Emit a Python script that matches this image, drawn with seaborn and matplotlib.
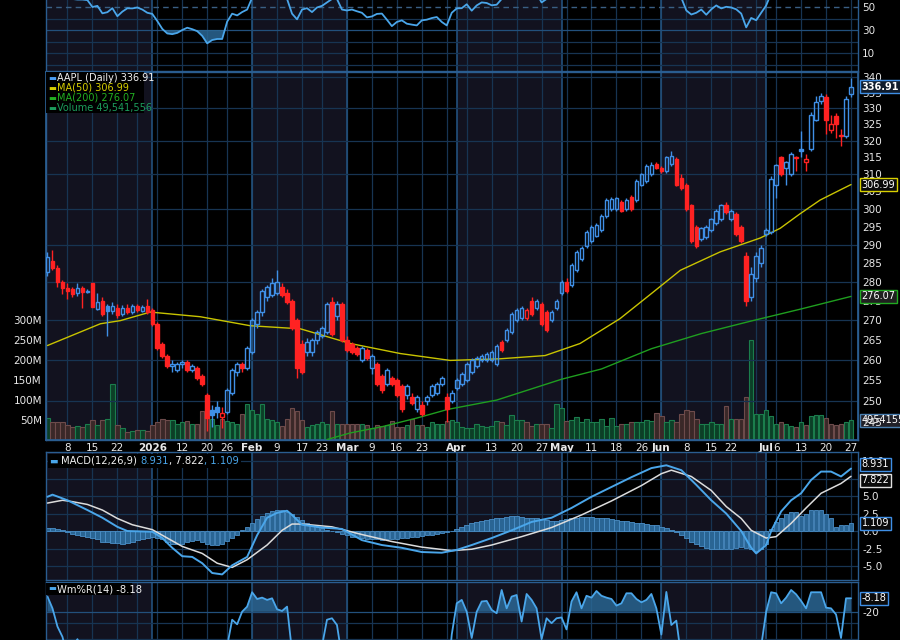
import numpy as np
import pandas as pd
import matplotlib
matplotlib.use('Agg')
import matplotlib.pyplot as plt
import seaborn as sns
from matplotlib.patches import Rectangle
from matplotlib.offsetbox import TextArea, HPacker, AnchoredOffsetbox
from matplotlib.ticker import NullLocator, NullFormatter

# ---- trading calendar ----
holidays = ['2025-12-25', '2026-01-01', '2026-01-19', '2026-02-16',
            '2026-04-03', '2026-05-25', '2026-06-19', '2026-07-03']
dates = pd.bdate_range('2025-12-02', '2026-07-27')
dates = dates[~dates.isin(pd.to_datetime(holidays))]

tick_dates = ['2025-12-08', '2025-12-15', '2025-12-22', '2026-01-02', '2026-01-12', '2026-01-20',
              '2026-01-26', '2026-02-02', '2026-02-09', '2026-02-17', '2026-02-23', '2026-03-02',
              '2026-03-09', '2026-03-16', '2026-03-23', '2026-04-01', '2026-04-13', '2026-04-20',
              '2026-04-27', '2026-05-01', '2026-05-11', '2026-05-18', '2026-05-26', '2026-06-01',
              '2026-06-08', '2026-06-15', '2026-06-22', '2026-07-01', '2026-07-06', '2026-07-13',
              '2026-07-20', '2026-07-27']
tick_text = ['8', '15', '22', '2026', '12', '20', '26', 'Feb', '9', '17', '23', 'Mar', '9', '16', '23',
             'Apr', '13', '20', '27', 'May', '11', '18', '26', 'Jun', '8', '15', '22', 'Jul', '6', '13',
             '20', '27']
shaded_months = [(2025, 12), (2026, 2), (2026, 4), (2026, 6)]

# ---- daily OHLC ----
prev_close = 281.0
opens = [282.5, 285.5, 283.7, 280.0, 278.2, 278.0, 277.0, 278.3, 277.3, 279.5,
         272.8, 275.0, 273.6, 272.3, 273.0, 271.5, 273.0, 272.0, 273.5, 272.4,
         273.5, 272.5, 269.0, 264.0, 261.0, 258.5, 257.5, 259.0, 259.3, 257.5,
         258.0, 256.0, 251.5, 247.8, 248.5, 246.2, 247.5, 252.0, 257.0, 259.0,
         258.0, 262.0, 269.0, 272.0, 276.0, 276.5, 277.0, 278.5, 277.0, 275.0,
         270.0, 264.0, 262.0, 262.0, 265.0, 266.0, 267.0, 274.5, 271.0, 274.0,
         265.0, 264.0, 263.0, 260.0, 262.5, 258.0, 259.0, 256.0, 254.0, 255.5,
         255.0, 253.5, 251.5, 251.0, 248.0, 249.0, 250.0, 251.5, 252.0, 254.0,
         251.0, 250.0, 253.0, 254.0, 255.0, 257.0, 258.5, 260.0, 260.0, 260.0,
         259.0, 264.5, 265.0, 267.0, 270.0, 270.5, 270.5, 275.0, 273.0, 274.0,
         272.0, 270.0, 273.0, 277.0, 280.0, 279.0, 283.0, 286.0, 289.5, 291.0,
         292.5, 294.0, 298.0, 300.0, 300.0, 302.0, 300.0, 303.5, 302.5, 307.0,
         308.0, 310.0, 313.0, 312.0, 311.0, 313.0, 314.5, 309.0, 307.0, 301.0,
         295.0, 291.5, 292.0, 294.0, 296.0, 297.0, 301.0, 297.0, 298.5, 295.0,
         287.0, 276.0, 281.0, 285.0, 293.0, 293.5, 307.0, 315.0, 312.0, 310.0,
         314.8, 317.3, 313.5, 317.5, 326.5, 332.3, 333.5, 323.3, 327.5, 321.8,
         321.5, 334.5]
highs = [288.0, 288.5, 284.5, 280.5, 279.5, 278.5, 279.5, 278.8, 278.0, 279.7,
         277.0, 276.0, 274.0, 274.5, 274.0, 273.8, 274.0, 274.0, 274.0, 273.8,
         275.5, 273.0, 269.5, 264.5, 261.5, 260.0, 259.5, 260.0, 259.8, 259.0,
         258.5, 256.5, 252.0, 249.0, 250.0, 248.5, 253.0, 258.0, 259.5, 259.5,
         263.5, 270.5, 272.5, 278.0, 279.0, 281.0, 283.0, 279.5, 278.0, 275.5,
         270.5, 265.0, 265.5, 265.5, 267.5, 268.5, 274.5, 276.0, 275.0, 274.5,
         266.0, 264.5, 263.5, 263.5, 263.0, 261.5, 259.5, 256.5, 258.0, 256.0,
         255.5, 254.0, 254.0, 252.0, 251.5, 250.0, 251.5, 254.0, 254.5, 256.0,
         252.0, 252.5, 255.5, 257.0, 259.5, 260.5, 261.0, 261.5, 262.0, 262.5,
         264.0, 265.0, 268.0, 272.0, 273.0, 273.5, 273.0, 276.0, 275.5, 274.5,
         272.5, 272.5, 275.5, 280.5, 281.0, 285.0, 288.5, 289.5, 294.0, 295.5,
         296.0, 298.5, 303.0, 303.5, 303.5, 302.5, 303.0, 304.0, 308.5, 310.5,
         313.0, 313.5, 313.5, 312.5, 315.5, 317.0, 315.0, 310.0, 307.5, 301.5,
         295.5, 295.0, 295.5, 297.5, 300.0, 301.5, 302.0, 300.0, 299.0, 295.5,
         288.0, 284.0, 288.0, 290.0, 294.5, 309.5, 313.0, 315.5, 314.0, 316.5,
         315.5, 323.0, 316.0, 329.0, 334.0, 335.0, 334.5, 328.0, 328.5, 323.5,
         334.0, 339.7]
lows = [281.5, 283.0, 278.5, 276.8, 275.5, 276.0, 276.2, 273.0, 277.0, 273.2,
        272.5, 271.0, 266.0, 271.5, 270.5, 271.0, 271.5, 271.5, 272.0, 272.0,
        271.5, 268.5, 262.5, 260.5, 258.0, 257.0, 257.0, 258.0, 257.0, 257.0,
        255.0, 253.5, 243.0, 244.0, 246.0, 243.7, 247.0, 251.5, 256.0, 257.0,
        257.5, 261.5, 268.0, 271.0, 275.0, 276.0, 276.5, 276.0, 274.0, 267.5,
        255.5, 256.5, 261.0, 261.0, 264.0, 265.5, 266.5, 266.0, 270.0, 264.5,
        262.0, 261.5, 261.0, 259.5, 260.0, 256.5, 253.5, 252.0, 253.5, 253.5,
        251.0, 247.5, 250.5, 249.0, 247.5, 246.5, 249.0, 251.0, 251.5, 253.5,
        245.0, 249.5, 252.5, 253.5, 254.5, 256.5, 258.0, 259.5, 259.5, 259.5,
        258.5, 262.0, 264.5, 266.5, 269.5, 270.0, 270.0, 271.0, 272.5, 268.5,
        267.0, 269.5, 272.5, 276.5, 277.0, 278.5, 282.5, 285.5, 289.0, 290.5,
        292.0, 293.5, 297.5, 299.5, 299.5, 299.0, 299.5, 299.5, 302.0, 306.5,
        307.5, 309.5, 311.5, 310.5, 310.5, 312.5, 306.5, 305.5, 299.5, 290.5,
        289.0, 291.0, 291.5, 293.5, 295.5, 296.5, 298.5, 296.5, 292.5, 290.5,
        273.5, 275.0, 280.0, 284.0, 292.5, 293.0, 303.0, 309.5, 307.0, 309.5,
        311.0, 315.0, 311.0, 317.0, 326.0, 331.5, 322.0, 322.5, 321.0, 318.5,
        321.0, 333.5]
closes = [286.5, 283.5, 280.0, 278.3, 277.4, 276.8, 278.2, 277.2, 277.6, 273.4,
          274.6, 271.5, 272.3, 273.6, 271.3, 273.0, 272.0, 273.5, 272.5, 273.2,
          272.0, 269.0, 263.0, 261.0, 258.5, 258.8, 259.0, 259.3, 257.5, 258.5,
          255.5, 254.0, 246.0, 246.6, 247.3, 247.2, 252.5, 257.5, 259.0, 258.0,
          263.0, 270.0, 272.0, 277.5, 278.5, 279.7, 279.9, 276.5, 274.5, 268.0,
          258.0, 257.0, 264.5, 265.0, 267.0, 268.0, 274.0, 266.5, 274.0, 265.0,
          262.5, 262.0, 261.5, 263.0, 260.5, 260.8, 254.0, 252.5, 257.5, 254.0,
          251.5, 248.0, 253.5, 249.5, 251.0, 247.0, 251.0, 253.5, 254.0, 255.5,
          248.0, 252.0, 255.0, 256.5, 259.0, 260.0, 260.5, 261.0, 261.5, 262.0,
          263.5, 262.5, 267.5, 271.5, 272.5, 273.0, 272.5, 271.5, 275.0, 269.0,
          267.5, 272.0, 275.0, 280.0, 277.5, 284.5, 288.0, 289.0, 293.5, 295.0,
          295.5, 298.0, 302.5, 302.8, 303.0, 299.5, 302.5, 300.0, 308.0, 310.0,
          312.5, 312.7, 312.0, 311.0, 315.0, 315.5, 307.0, 306.0, 300.0, 291.0,
          289.7, 294.5, 295.0, 297.0, 299.5, 301.0, 299.0, 299.5, 293.0, 291.0,
          275.0, 282.0, 287.0, 289.0, 294.0, 308.5, 312.7, 310.0, 313.5, 316.0,
          315.2, 317.1, 314.5, 328.0, 332.0, 334.0, 326.5, 325.3, 325.0, 321.5,
          333.0, 336.91]
volume_m = [56, 45, 45, 46, 38, 33, 35, 33, 39, 49, 38, 49, 52, 141, 38, 30, 19, 23, 25, 25,
            23, 38, 46, 52, 49, 49, 41, 45, 48, 39, 39, 72, 100, 52, 38, 52, 48, 44, 39, 64,
            90, 74, 64, 89, 52, 49, 46, 35, 52, 80, 72, 49, 33, 38, 41, 46, 39, 72, 39, 39,
            41, 39, 39, 41, 38, 31, 38, 35, 38, 48, 33, 33, 38, 52, 38, 38, 33, 44, 41, 41,
            48, 49, 44, 33, 31, 30, 41, 35, 33, 35, 48, 46, 38, 62, 49, 49, 44, 35, 39, 41,
            39, 30, 89, 80, 48, 49, 57, 46, 52, 44, 44, 52, 35, 54, 35, 41, 41, 44, 46, 46,
            49, 48, 68, 60, 46, 49, 44, 66, 76, 72, 52, 41, 39, 44, 41, 39, 85, 52, 52, 52,
            108, 250, 66, 64, 74, 60, 41, 44, 41, 35, 33, 44, 38, 60, 62, 62, 54, 41, 38, 39,
            46, 49.54]

# ---- moving averages ----
ma50_idx = [0, 10.6, 14.6, 20.6, 30.6, 40.6, 50.7, 60.7, 70.7, 80.7, 90.7, 99.7, 106.7, 114.7,
            120.7, 126.8, 134.8, 142.8, 146.8, 150.8, 154.8, 158.8, 161]
ma50_val = [263.5, 269.0, 269.8, 272.0, 270.8, 268.5, 267.7, 264.0, 261.5, 259.8, 260.2, 261.0,
            264.0, 270.3, 276.5, 283.0, 288.0, 291.8, 294.5, 298.6, 302.5, 305.4, 306.99]
ma200_idx = [56, 60.6, 67.2, 74.1, 80.2, 90, 103, 111, 121, 131, 141, 151, 161]
ma200_val = [241.0, 242.5, 244.0, 246.0, 248.0, 250.2, 255.2, 257.7, 262.7, 266.5, 269.7, 272.8, 276.07]

# ---- MACD(12,26,9) ----
macd_idx = [0, 1, 4, 8, 11, 14, 16, 21, 23, 25, 27, 29, 31, 33, 35, 37, 40, 42, 44, 46, 48, 49,
            51, 55, 59, 63, 67, 71, 75, 79, 82, 85, 89, 93, 97, 101, 105, 109, 113, 117, 121, 124,
            127, 130, 133, 136, 139, 141, 142, 144, 145, 147, 149, 151, 153, 155, 157, 159, 161]
macd_val = [4.9, 5.2, 4.4, 3.0, 1.9, 0.6, 0.0, -0.1, -1.0, -2.4, -3.6, -3.7, -4.6, -6.0, -6.2,
            -4.9, -3.7, -0.6, 1.9, 2.6, 2.9, 2.3, 0.9, 0.5, 0.3, -1.3, -2.0, -2.4, -3.0, -3.1,
            -2.7, -2.0, -1.0, 0.1, 1.3, 1.9, 3.3, 4.9, 6.3, 7.7, 9.0, 9.4, 8.7, 6.6, 4.4, 2.5,
            0.0, -2.4, -3.2, -2.0, 0.0, 2.8, 4.4, 5.4, 7.3, 8.5, 8.5, 7.8, 8.931]
signal_idx = [0, 3, 5, 8, 11, 14, 17, 21, 24, 27, 31, 34, 37, 40, 44, 47, 49, 51, 57, 63, 69, 75,
              81, 85, 89, 95, 101, 107, 113, 119, 123, 125, 129, 133, 136, 139, 141, 144, 146,
              149, 152, 155, 159, 161]
signal_val = [4.0, 4.4, 4.2, 3.8, 3.0, 1.8, 0.9, 0.2, -1.0, -2.2, -3.2, -4.6, -5.2, -4.1, -2.0,
              0.1, 1.0, 1.0, 0.6, -0.5, -1.5, -2.3, -2.8, -2.6, -2.0, -0.8, 0.5, 2.3, 4.3, 6.5,
              8.2, 8.7, 7.8, 5.8, 3.5, 1.8, 0.1, -1.0, -0.8, 1.1, 3.3, 5.4, 6.8, 7.822]
macd_hist = [0.5, 0.5, 0.3, 0.2, -0.1, -0.4, -0.6, -0.7, -0.9, -1.0,
             -1.2, -1.5, -1.6, -1.7, -1.7, -1.8, -1.7, -1.5, -1.3, -1.2,
             -1.0, -0.9, -1.0, -1.2, -1.5, -1.8, -1.9, -1.8, -1.6, -1.4,
             -1.3, -1.5, -1.8, -2.0, -2.0, -1.8, -1.4, -1.0, -0.5, 0.1,
             0.6, 1.2, 1.7, 2.2, 2.6, 2.9, 3.0, 3.0, 2.7, 2.4,
             2.0, 1.6, 1.2, 0.9, 0.6, 0.4, 0.2, 0.0, -0.2, -0.4,
             -0.6, -0.8, -0.9, -1.0, -1.1, -1.2, -1.2, -1.3, -1.2, -1.2,
             -1.1, -1.0, -1.0, -0.9, -0.8, -0.7, -0.6, -0.5, -0.4, -0.3,
             -0.2, 0.0, 0.3, 0.6, 0.9, 1.1, 1.3, 1.5, 1.6, 1.7,
             1.8, 1.9, 2.0, 2.1, 2.1, 2.0, 1.9, 1.9, 1.8, 1.7,
             1.6, 1.5, 1.5, 1.6, 1.7, 1.8, 1.9, 2.0, 2.0, 2.0,
             1.9, 1.9, 1.8, 1.7, 1.6, 1.5, 1.4, 1.3, 1.2, 1.1,
             1.0, 0.9, 0.8, 0.6, 0.4, 0.2, -0.2, -0.6, -1.0, -1.5,
             -1.9, -2.2, -2.4, -2.5, -2.6, -2.6, -2.6, -2.5, -2.4, -2.3,
             -2.4, -2.6, -2.8, -2.6, -1.8, 0.3, 1.3, 1.8, 2.4, 2.7,
             2.7, 2.2, 2.4, 3.0, 3.0, 3.0, 2.4, 1.8, 0.6, 0.8,
             0.9, 1.109]

# ---- RSI (top panel, only lower half visible) ----
rsi = [62, 60, 58, 57, 58, 57, 56.5, 56.5, 56, 50, 51, 44.5, 45.5, 49, 42, 46, 48.9, 48.8, 49.6, 47.8,
       45, 44, 37.8, 31, 27, 26.4, 27.5, 30, 32, 30.7, 29, 24.9, 18.4, 21.3, 22.2, 22.2, 37.3, 44.2, 42.7, 45.6,
       47.8, 58, 62, 66, 68, 69, 67, 62, 57, 44.2, 39.3, 47.8, 49, 45.6, 49.6, 51, 54, 57, 57, 47.8,
       47, 47.8, 46.3, 45, 41, 41.8, 44, 44.3, 39, 33.4, 37, 38.4, 35.5, 34.7, 34, 38.4, 39, 40.4, 41.3, 37,
       34, 45, 48.8, 49, 52.4, 46.8, 51.4, 54, 53.5, 51.5, 52, 57, 60, 64, 65, 66, 64, 60, 62, 54,
       57, 58, 62, 66, 64, 68, 71, 72, 75, 76, 76, 77, 79, 78, 78, 73, 75, 72, 76, 77,
       78, 78, 76, 74, 76, 76, 62, 58, 47, 43.5, 45, 47.8, 43.3, 48, 51.4, 48.8, 50.2, 49.6, 48, 44.3,
       32.3, 40.5, 38.5, 45, 51.3, 62, 66, 65, 63, 66, 64, 66, 62, 71, 74, 75, 66, 64, 64, 60,
       70, 72]

# ---- Williams %R(14) ----
willr = [-6.7, -17, -33, -42, -60, -70, -44, -75, -60, -80, -65, -85, -75, -60, -80, -70, -75, -65, -70, -60,
         -72, -85, -95, -92, -90, -85, -80, -75, -82, -78, -88, -90, -97, -90, -85, -80, -50, -27, -31, -19.9,
         -15.5, -2.9, -8.8, -7.6, -9.6, -8.2, -17.8, -19.3, -15.5, -55, -90, -85, -70, -65, -60, -50, -27,
         -25.7, -31.6, -60, -70, -72, -75, -68, -78, -72, -90, -92, -75, -85, -92, -97, -80, -88, -80, -92,
         -80, -70, -68, -62, -90, -40, -12.6, -9.6, -20, -43, -20, -11, -10.5, -18.4, -21.3, -0.9, -17,
         -6.7, -5.3, -28.6, -4.4, -9.6, -17, -44, -25.7, -30, -25.7, -25, -35.5, -11, -2.9, -17, -6, -7.6,
         -1.8, -6, -7.6, -8.8, -14.6, -12.6, -3.8, -3.8, -8.8, -11.7, -9.6, -4.4, -17, -40, -2.6, -31.6,
         -27.8, -60, -80, -95, -90, -75, -72, -65, -58, -52, -60, -62, -75, -85, -98, -75, -65, -50, -20,
         -2.9, -3.8, -12.6, -7.6, -0.9, -4.7, -10.5, -17, -2.9, -2.9, -2.9, -16.4, -17, -22.4, -43, -8.2,
         -8.18]

# ---- style ----
BG = 'black'
SHADE = '#12121f'
GRID = '#173452'
GRID_MONTH = '#22507c'
SPINE = '#2a5d90'
BLUE = '#3f8fe6'
RED = '#ff2222'
TXT = '#e8e8e8'

sns.set_theme(style='dark', rc={'axes.facecolor': BG, 'figure.facecolor': BG,
                                'axes.edgecolor': SPINE, 'text.color': TXT,
                                'xtick.color': TXT, 'ytick.color': TXT})
plt.rcParams['font.family'] = ['DejaVu Sans']

W, H = 900, 640
L, R = 46, 858
fig = plt.figure(figsize=(9, 6.4), dpi=100)


def rect(top, bottom):
    return [L / W, 1 - bottom / H, (R - L) / W, (bottom - top) / H]


n = len(dates)
xs = np.arange(n)
xlim = (-0.3, 162.4)
month_start = [i for i in range(n) if i == 0 or dates[i].month != dates[i - 1].month]
week_start = [i for i in range(n) if i > 0 and dates[i].weekday() < dates[i - 1].weekday()]


def base_axes(ax):
    ax.set_facecolor(BG)
    ax.set_xlim(*xlim)
    for ym in shaded_months:
        idx = [i for i in range(n) if (dates[i].year, dates[i].month) == ym]
        a = idx[0] if idx[0] > 0 else xlim[0]
        nxt = idx[-1] + 1
        ax.axvspan(a, nxt if nxt < n else xlim[1], color=SHADE, zorder=0, lw=0)
    for i in week_start:
        ax.axvline(i, color=GRID, lw=0.9, zorder=0.5)
    for i in month_start[1:]:
        ax.axvline(i, color=GRID_MONTH, lw=1.2, zorder=0.5)
    for s in ax.spines.values():
        s.set_color(SPINE)
        s.set_linewidth(1.0)
    ax.set_xticks([])
    ax.tick_params(axis='y', length=0, labelsize=7.5, colors=TXT, pad=3)


# ================= RSI panel (cut at the top) =================
ax_rsi = fig.add_axes(rect(-60, 71))
base_axes(ax_rsi)
ax_rsi.set_ylim(-5.65, 108.3)
for v in range(0, 101, 10):
    if v in (50, 70):
        ax_rsi.axhline(v, color='#3a5f84', lw=1.0, ls=(0, (4, 3)), zorder=0.6)
    else:
        ax_rsi.axhline(v, color=GRID if v != 30 else GRID_MONTH, lw=0.9, zorder=0.6)
rsi_arr = np.array(rsi)
ax_rsi.fill_between(xs, rsi_arr, 30, where=rsi_arr < 30, interpolate=True,
                    color='#2b6795', alpha=0.85, lw=0, zorder=1)
sns.lineplot(x=xs, y=rsi_arr, ax=ax_rsi, color='#4aa6ea', lw=1.3, zorder=2)
ax_rsi.yaxis.tick_right()
ax_rsi.set_yticks([10, 30, 50])
ax_rsi.set_yticklabels(['10', '30', '50'])
ax_rsi.set_ylabel('')

# ================= price + volume panel =================
ax_vol = fig.add_axes(rect(72, 440))
base_axes(ax_vol)
ax_vol.set_ylim(0, 920e6)
up_vol = [closes[i] >= (closes[i - 1] if i else prev_close) for i in range(n)]
vface = ['#0c3f27' if u else '#3a2828' for u in up_vol]
vedge = ['#1b7d4c' if u else '#6d4b4b' for u in up_vol]
ax_vol.bar(xs, np.array(volume_m) * 1e6, width=0.9, color=vface, edgecolor=vedge, lw=0.8, zorder=2)
ax_vol.set_yticks([50e6, 100e6, 150e6, 200e6, 250e6, 300e6])
ax_vol.set_yticklabels(['50M', '100M', '150M', '200M', '250M', '300M'])
ax_vol.tick_params(axis='y', pad=3)

ax_px = ax_vol.twinx()
ax_px.set_yscale('log')
ax_px.set_ylim(240.9, 341.6)
ax_px.set_xlim(*xlim)
for s in ax_px.spines.values():
    s.set_color(SPINE)
for v in range(250, 345, 10):
    ax_px.axhline(v, color=GRID, lw=0.9, zorder=0.5)
ax_px.yaxis.set_minor_locator(NullLocator())
ax_px.yaxis.set_minor_formatter(NullFormatter())
ax_px.set_yticks(list(range(245, 345, 5)))
ax_px.set_yticklabels([str(v) for v in range(245, 345, 5)])
ax_px.tick_params(axis='y', length=0, labelsize=7.5, colors=TXT, pad=3)

sns.lineplot(x=ma200_idx, y=ma200_val, ax=ax_px, color='#1f9e1f', lw=1.0, zorder=3)
sns.lineplot(x=ma50_idx, y=ma50_val, ax=ax_px, color='#c9c400', lw=1.0, zorder=3)

# candles: colour vs previous close, hollow when close > open
prevs = [prev_close] + closes[:-1]
for i in range(n):
    o, h, l, c = opens[i], highs[i], lows[i], closes[i]
    col = BLUE if c >= prevs[i] else RED
    top, bot = max(o, c), min(o, c)
    if top - bot < 0.25:
        top, bot = top + 0.15, bot - 0.15
    ax_px.vlines(i, top, h, color=col, lw=1.0, zorder=4)
    ax_px.vlines(i, l, bot, color=col, lw=1.0, zorder=4)
    ax_px.add_patch(Rectangle((i - 0.36, bot), 0.72, top - bot,
                              facecolor=col if c < o else 'none', edgecolor=col, lw=1.0, zorder=5))
ax_px.set_ylabel('')
ax_vol.set_ylabel('')

# x tick labels under the price panel
tick_pos = [dates.get_loc(pd.Timestamp(d)) for d in tick_dates]
ax_vol.set_xticks(tick_pos)
ax_vol.set_xticklabels(tick_text)
ax_vol.tick_params(axis='x', length=0, pad=2, labelsize=7.5, colors=TXT)
for lab in ax_vol.get_xticklabels():
    if not lab.get_text().isdigit() or lab.get_text() == '2026':
        lab.set_fontweight('bold')

# ================= MACD panel =================
ax_m = fig.add_axes(rect(452, 580))
base_axes(ax_m)
ax_m.set_ylim(-7.0, 11.3)
for v in np.arange(-5.0, 10.1, 2.5):
    ax_m.axhline(v, color=GRID, lw=0.9, zorder=0.6)
ax_m.bar(xs, macd_hist, width=0.9, color='#2a6594', edgecolor='#4b8fc7', lw=0.6, zorder=2)
sns.lineplot(x=signal_idx, y=signal_val, ax=ax_m, color='#dcdcdc', lw=1.1, zorder=3)
sns.lineplot(x=macd_idx, y=macd_val, ax=ax_m, color='#4aa6ea', lw=1.4, zorder=4)
ax_m.yaxis.tick_right()
mt = [-5.0, -2.5, 0.0, 2.5, 5.0, 7.5, 10.0]
ax_m.set_yticks(mt)
ax_m.set_yticklabels([f'{v:.1f}' for v in mt])
ax_m.set_ylabel('')

# ================= Williams %R panel (cut at the bottom) =================
ax_w = fig.add_axes(rect(582, 712))
base_axes(ax_w)
ax_w.set_ylim(-107.9, 6.1)
for v in (-20, -30, -44):
    ax_w.axhline(v, color=GRID if v != -20 else GRID_MONTH, lw=0.9, zorder=0.6)
wr = np.array(willr)
ax_w.fill_between(xs, wr, -20, where=wr > -20, interpolate=True,
                  color='#2b6795', alpha=0.85, lw=0, zorder=1)
sns.lineplot(x=xs, y=wr, ax=ax_w, color='#4aa6ea', lw=1.3, zorder=2)
ax_w.yaxis.tick_right()
ax_w.set_yticks([-20])
ax_w.set_yticklabels(['-20'])
ax_w.set_ylabel('')


# ================= value tags on the right =================
def tag(ax, y, text, ec, fc='#0a0a0a', bold=False, dy=0):
    ax.annotate(text, xy=(1, y), xycoords=ax.get_yaxis_transform(), xytext=(2.6, dy),
                textcoords='offset points', va='center', ha='left', fontsize=7,
                color='white', fontweight='bold' if bold else 'normal', annotation_clip=False,
                bbox=dict(boxstyle='square,pad=0.15', fc=fc, ec=ec, lw=1.0), zorder=10)


tag(ax_px, closes[-1], '336.91', '#3f8fe6', fc='#101c2c', bold=True)
tag(ax_px, ma50_val[-1], '306.99', '#d8d000')
tag(ax_px, ma200_val[-1], '276.07', '#22aa22', fc='#202020')
tag(ax_vol, volume_m[-1] * 1e6, '49541556', '#4a7fb0', fc='#202028')
tag(ax_m, macd_val[-1], '8.931', '#3f8fe6', dy=3.0)
tag(ax_m, signal_val[-1], '7.822', '#e0e0e0', dy=-3.0)
tag(ax_m, macd_hist[-1], '1.109', '#3f8fe6')
tag(ax_w, willr[-1], '-8.18', '#3f8fe6')

# ================= legends =================
fig.patches.append(Rectangle((L / W, 1 - 113 / H), 98 / W, 41 / H, transform=fig.transFigure,
                             facecolor='black', edgecolor='none', zorder=8))
leg_rows = [('AAPL (Daily) 336.91', '#f0f0f0', '#4a9cf0', 78),
            ('MA(50) 306.99', '#d8d000', '#d8d000', 88),
            ('MA(200) 276.07', '#22b022', '#22b022', 98),
            ('Volume 49,541,556', '#1c9c5c', '#1c9c5c', 108)]
for txt, col, icol, ypx in leg_rows:
    fig.text(48 / W, 1 - ypx / H, '\u25ac', color=icol, fontsize=6, va='center', ha='left', zorder=9)
    fig.text(57 / W, 1 - ypx / H, txt, color=col, fontsize=7, va='center', ha='left', zorder=9)

parts = [TextArea('\u25ac ', textprops=dict(color='#4aa6ea', fontsize=6.5)),
         TextArea('MACD(12,26,9) ', textprops=dict(color='#f0f0f0', fontsize=7.2)),
         TextArea('8.931', textprops=dict(color='#4aa6ea', fontsize=7.2)),
         TextArea(', 7.822', textprops=dict(color='#f0f0f0', fontsize=7.2)),
         TextArea(', 1.109', textprops=dict(color='#4aa6ea', fontsize=7.2))]
box = HPacker(children=parts, align='baseline', pad=0, sep=0)
anc = AnchoredOffsetbox(loc='upper left', child=box, pad=0.15, borderpad=0.1, frameon=True,
                        bbox_to_anchor=(0, 1), bbox_transform=ax_m.transAxes)
anc.patch.set_facecolor('black')
anc.patch.set_edgecolor('none')
anc.set_zorder(9)
ax_m.add_artist(anc)

fig.patches.append(Rectangle((L / W, 1 - 595 / H), 86 / W, 12 / H, transform=fig.transFigure,
                             facecolor='black', edgecolor='none', zorder=8))
fig.text(48 / W, 1 - 589 / H, '\u25ac', color='#4aa6ea', fontsize=6, va='center', ha='left', zorder=9)
fig.text(57 / W, 1 - 589 / H, 'Wm%R(14) -8.18', color='#f0f0f0', fontsize=7.2, va='center',
         ha='left', zorder=9)

fig.savefig('out.png', dpi=100, facecolor=BG)
